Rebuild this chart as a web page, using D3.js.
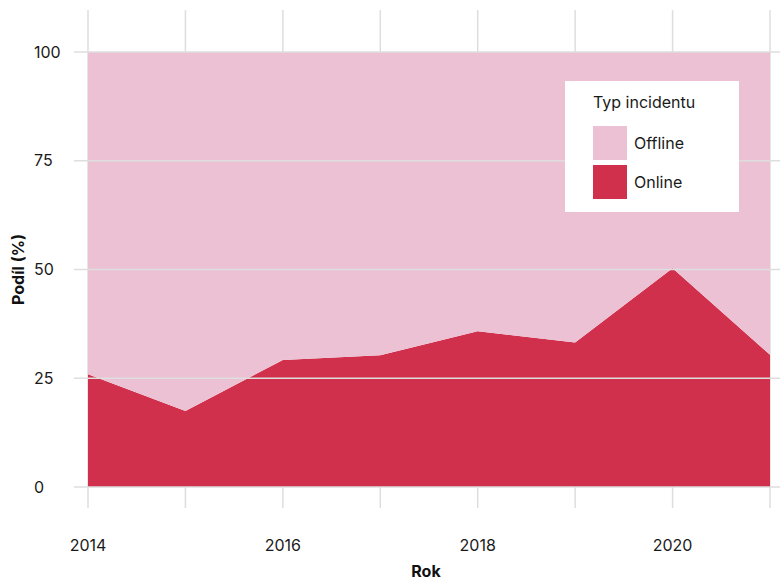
<!DOCTYPE html>
<html><head><meta charset="utf-8">
<script src="https://cdn.jsdelivr.net/npm/d3@7"></script>
<style>body{margin:0;background:#fff}svg{display:block;font-family:Inter,"Open Sans",sans-serif}</style>
</head><body>
<svg id="c" width="780" height="581"></svg>
<script>
const years = [2014, 2015, 2016, 2017, 2018, 2019, 2020, 2021];
const online = [25.9, 17.5, 29.2, 30.3, 35.8, 33.2, 50.3, 30.4];
const offline = online.map(v => 100 - v);
const seriesKeys = ["Online", "Offline"];
const seriesColors = ["#d0304b", "#ecc1d4"];
const yTicks = [0, 25, 50, 75, 100];
const xTicks = [2014, 2016, 2018, 2020];
const legendTitle = "Typ incidentu";
const legendItems = ["Offline", "Online"];

const svg = d3.select("#c");
const x = d3.scaleLinear().domain([2014, 2021]).range([88, 770]);
const y = d3.scaleLinear().domain([0, 100]).range([487, 52]);
const grid = "#dedede";

// vertical grid (behind)
svg.append("g").selectAll("line").data(years).join("line")
  .attr("x1", d => x(d)).attr("x2", d => x(d))
  .attr("y1", 10).attr("y2", 508)
  .attr("stroke", grid).attr("stroke-width", 1.5);

const table = years.map((yr, i) => ({year: yr, Online: online[i], Offline: offline[i]}));
const stack = d3.stack().keys(seriesKeys)(table);
const area = d3.area().x(d => x(d.data.year)).y0(d => y(d[0])).y1(d => y(d[1]));
svg.append("g").selectAll("path").data(stack).join("path")
  .attr("d", area).attr("fill", (d, i) => seriesColors[i]);

// horizontal grid (on top)
svg.append("g").selectAll("line").data(yTicks).join("line")
  .attr("x1", 74).attr("x2", 780)
  .attr("y1", d => y(d)).attr("y2", d => y(d))
  .attr("stroke", grid).attr("stroke-width", 1.5);

// y tick labels (left aligned)
svg.append("g").selectAll("text").data(yTicks).join("text")
  .attr("x", 34).attr("y", d => y(d)).attr("dy", "0.35em")
  .attr("text-anchor", "start").attr("font-size", 16).attr("fill", "#1a1a1a")
  .text(d => d);

// x tick labels
svg.append("g").selectAll("text").data(xTicks).join("text")
  .attr("x", d => x(d)).attr("y", 551)
  .attr("text-anchor", "middle").attr("font-size", 16).attr("fill", "#1a1a1a")
  .text(d => d);

svg.append("text").attr("x", 426).attr("y", 577).attr("text-anchor", "middle")
  .attr("font-size", 16).attr("font-weight", "bold").attr("fill", "#111").text("Rok");
svg.append("text").attr("transform", `translate(24,${y(50)}) rotate(-90)`).attr("text-anchor", "middle")
  .attr("font-size", 16).attr("font-weight", "bold").attr("fill", "#111").text("Podíl (%)");

// legend
const lg = svg.append("g");
lg.append("rect").attr("x", 565).attr("y", 81).attr("width", 174).attr("height", 131).attr("fill", "#fff");
lg.append("text").attr("x", 593).attr("y", 108).attr("font-size", 16).attr("fill", "#1a1a1a").text(legendTitle);
legendItems.forEach((k, i) => {
  const col = seriesColors[seriesKeys.indexOf(k)];
  lg.append("rect").attr("x", 593).attr("y", 126 + i * 39).attr("width", 34).attr("height", 34).attr("fill", col);
  lg.append("text").attr("x", 634).attr("y", 143 + i * 39).attr("dy", "0.35em")
    .attr("font-size", 16).attr("fill", "#1a1a1a").text(k);
});
</script>
</body></html>
